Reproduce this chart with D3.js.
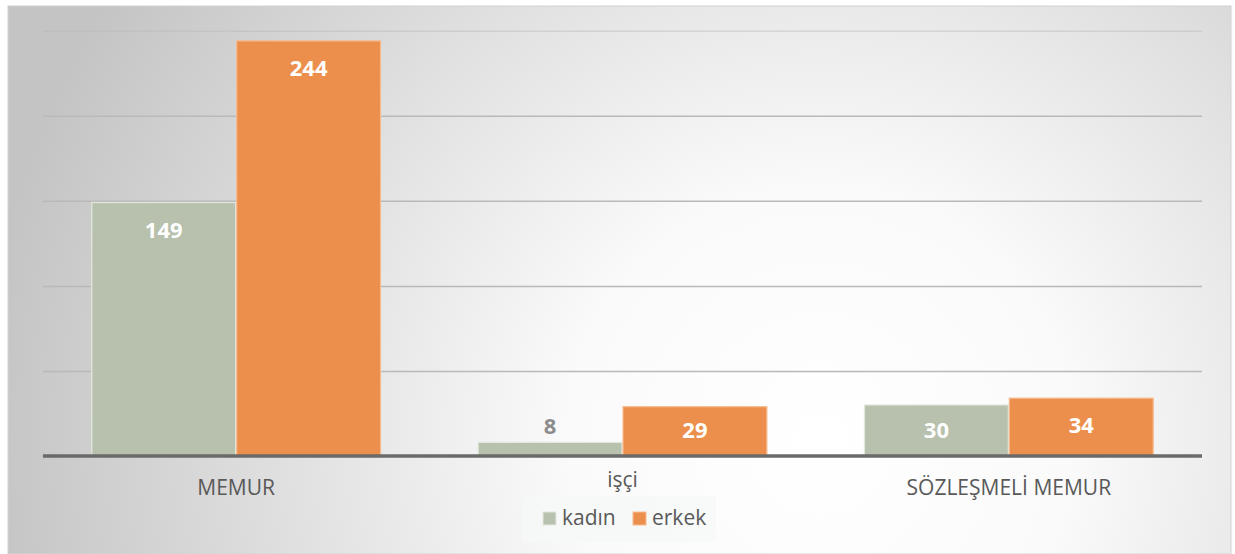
<!DOCTYPE html>
<html>
<head>
<meta charset="utf-8">
<script src="https://cdn.jsdelivr.net/npm/d3@7"></script>
<style>
  body { margin: 0; background: #fff; }
  svg { display: block; font-family: 'Open Sans', 'DejaVu Sans', sans-serif; }
  .grid line { stroke: #b9b9b9; stroke-width: 1.5; }
  .grid .domain { display: none; }
  .cat-label { fill: #595959; font-size: 21px; text-anchor: middle; }
  .bar-label { font-size: 22px; font-weight: 700; text-anchor: middle; }
  .legend-label { fill: #595959; font-size: 21px; }
</style>
</head>
<body>
<svg width="1235" height="554"></svg>
<script>
// Chart data
var categories = ['MEMUR', 'işçi', 'SÖZLEŞMELİ MEMUR'];
var seriesNames = ['kadın', 'erkek'];
var kadinValues = [149, 8, 30];
var erkekValues = [244, 29, 34];
var gridTicks = [50, 100, 150, 200, 250];

var svg = d3.select('svg');
var svgWidth = +svg.attr('width');
var svgHeight = +svg.attr('height');

var colors = {'kadın': '#b7c1ad', 'erkek': '#ed8f4c'};
var borders = {'kadın': '#e3e8de', 'erkek': '#f7bb90'};

// Plot area
var plot = {l: 43, r: 1202, t: 30.7, b: 456};

// Background with a soft radial gradient
var defs = svg.append('defs');
var grad = defs.append('radialGradient')
    .attr('id', 'bg')
    .attr('gradientUnits', 'userSpaceOnUse')
    .attr('cx', 820).attr('cy', 440).attr('r', 840);
grad.append('stop').attr('offset', '0%').attr('stop-color', '#ffffff');
grad.append('stop').attr('offset', '30%').attr('stop-color', '#fafafa');
grad.append('stop').attr('offset', '100%').attr('stop-color', '#c4c4c4');

svg.append('rect')
    .attr('x', 8).attr('y', 6)
    .attr('width', svgWidth - 12).attr('height', svgHeight - 6)
    .attr('fill', 'url(#bg)')
    .attr('stroke', '#d2d2d2')
    .attr('stroke-width', 1);

// Scales
var xScale = d3.scaleBand()
    .domain(categories)
    .range([plot.l, plot.r])
    .paddingInner(0.25)
    .paddingOuter(0.125);

var xInner = d3.scaleBand()
    .domain(seriesNames)
    .range([0, xScale.bandwidth()]);

var yScale = d3.scaleLinear()
    .domain([0, 250])
    .range([plot.b, plot.t]);

// Gridlines
svg.append('g')
    .attr('class', 'grid')
    .attr('transform', 'translate(' + plot.l + ',0)')
    .call(d3.axisLeft(yScale)
        .tickValues(gridTicks)
        .tickSize(-(plot.r - plot.l))
        .tickFormat(''));
svg.selectAll('.grid .tick line')
    .attr('stroke-opacity', function(d) { return d === 250 ? 0.45 : 1; });

// Flatten into rows for the bars
var rows = [];
categories.forEach(function(cat, i) {
    rows.push({cat: cat, series: 'kadın', value: kadinValues[i]});
    rows.push({cat: cat, series: 'erkek', value: erkekValues[i]});
});

var barG = svg.append('g');
barG.selectAll('.bar')
    .data(rows)
    .enter()
    .append('rect')
    .attr('class', 'bar')
    .attr('x', function(d) { return xScale(d.cat) + xInner(d.series) + 0.5; })
    .attr('width', xInner.bandwidth() - 1)
    .attr('y', function(d) { return yScale(d.value); })
    .attr('height', function(d) { return yScale(0) - yScale(d.value); })
    .attr('fill', function(d) { return colors[d.series]; })
    .attr('stroke', function(d) { return borders[d.series]; })
    .attr('stroke-width', 1.2);

// Baseline
svg.append('line')
    .attr('x1', plot.l).attr('x2', plot.r)
    .attr('y1', yScale(0)).attr('y2', yScale(0))
    .attr('stroke', '#6a6a6a')
    .attr('stroke-width', 3.5);

// Data labels: inside end, or above the bar when it is too short
barG.selectAll('.bar-label')
    .data(rows)
    .enter()
    .append('text')
    .attr('class', 'bar-label')
    .attr('x', function(d) { return xScale(d.cat) + xInner(d.series) + xInner.bandwidth() / 2; })
    .attr('y', function(d) {
        var top = yScale(d.value);
        if (yScale(0) - top < 25) return top - 8;
        return Math.min(top + 35, yScale(0) - 18);
    })
    .attr('fill', function(d) { return (yScale(0) - yScale(d.value) < 25) ? '#8c8c8c' : '#ffffff'; })
    .text(function(d) { return d.value; });

// Category labels (the middle one is lifted above the legend)
svg.selectAll('.cat-label')
    .data(categories)
    .enter()
    .append('text')
    .attr('class', 'cat-label')
    .attr('x', function(d) { return xScale(d) + xScale.bandwidth() / 2; })
    .attr('y', function(d, i) { return i === 1 ? 487 : 495; })
    .text(function(d) { return d; });

// Legend
var legend = svg.append('g')
    .attr('transform', 'translate(' + [523, 496] + ')');
legend.append('rect')
    .attr('width', 193).attr('height', 46)
    .attr('fill', '#f6f8f7')
    .attr('fill-opacity', 0.8);

var item = legend.selectAll('.item')
    .data(seriesNames)
    .enter()
    .append('g')
    .attr('class', 'item')
    .attr('transform', function(d, i) { return 'translate(' + [20 + i * 90, 0] + ')'; });
item.append('rect')
    .attr('y', 16)
    .attr('width', 13).attr('height', 13)
    .attr('fill', function(d) { return colors[d]; })
    .attr('stroke', function(d) { return borders[d]; })
    .attr('stroke-width', 1);
item.append('text')
    .attr('class', 'legend-label')
    .attr('x', 19)
    .attr('y', 29)
    .text(function(d) { return d; });
</script>
</body>
</html>
